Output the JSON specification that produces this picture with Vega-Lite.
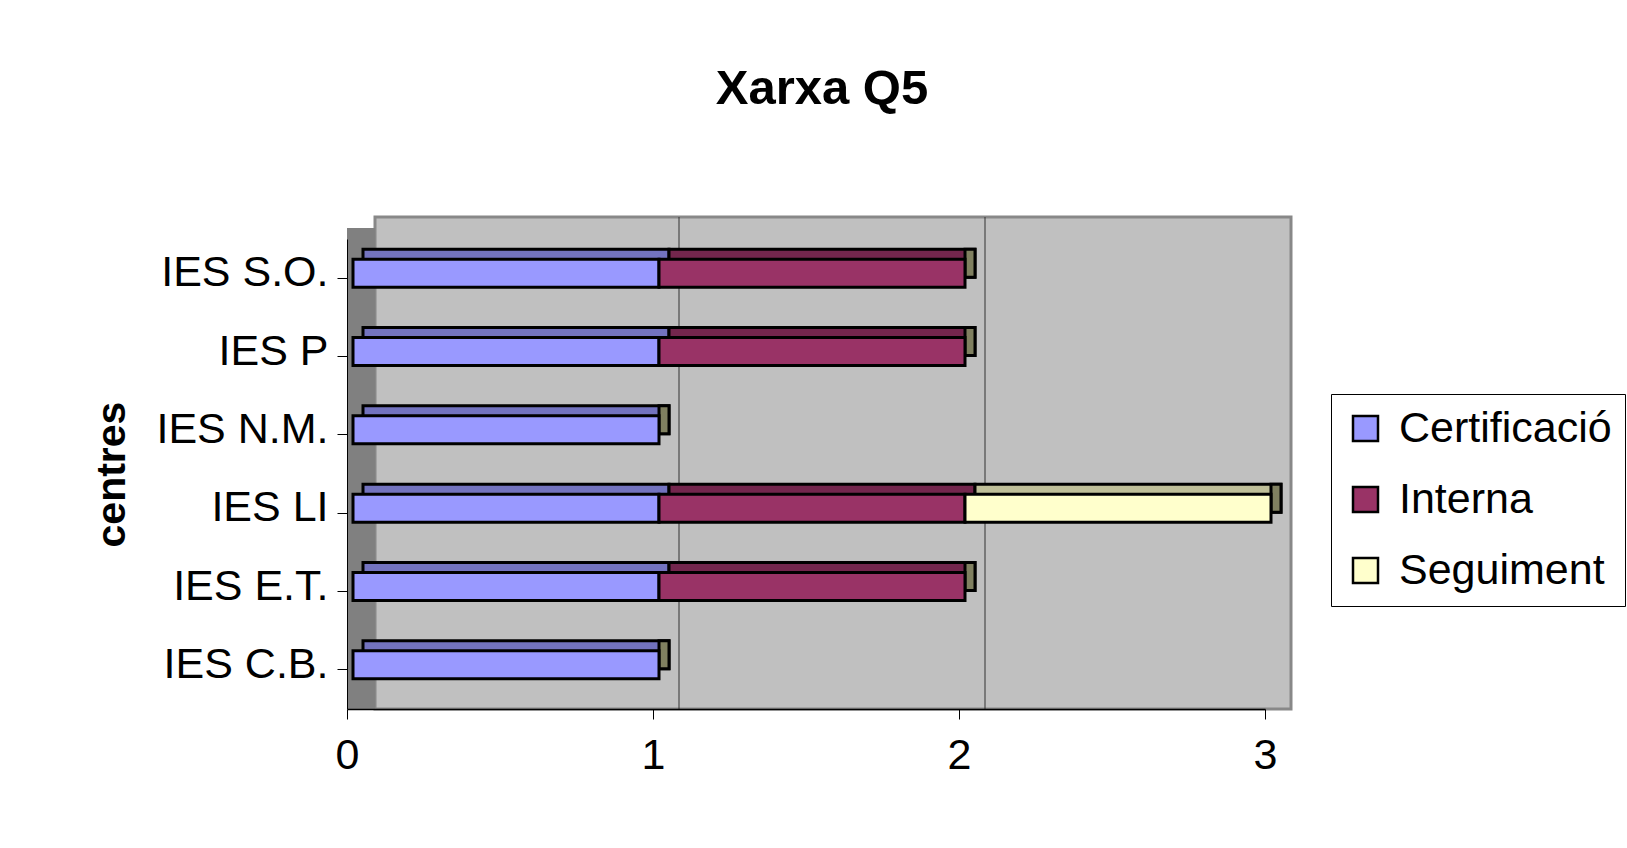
{
  "$schema": "https://vega.github.io/schema/vega-lite/v6.json",
  "autosize": {"type": "none"},
  "width": 918,
  "height": 470,
  "padding": {"left": 347, "top": 239, "right": 362, "bottom": 139},
  "background": "white",
  "config": {
    "view": {"stroke": null, "fill": null},
    "font": "Liberation Sans"
  },
  "title": {"text": "Xarxa Q5", "fontSize": 49, "fontWeight": "bold", "font": "Liberation Sans", "color": "black", "anchor": "middle", "frame": "group", "baseline": "alphabetic", "offset": 63, "dx": 16},
  "datasets": {
    "bars": [
      {"centre": "IES S.O.", "series": "Certificació", "value": 1},
      {"centre": "IES S.O.", "series": "Interna", "value": 1},
      {"centre": "IES P", "series": "Certificació", "value": 1},
      {"centre": "IES P", "series": "Interna", "value": 1},
      {"centre": "IES N.M.", "series": "Certificació", "value": 1},
      {"centre": "IES LI", "series": "Certificació", "value": 1},
      {"centre": "IES LI", "series": "Interna", "value": 1},
      {"centre": "IES LI", "series": "Seguiment", "value": 1},
      {"centre": "IES E.T.", "series": "Certificació", "value": 1},
      {"centre": "IES E.T.", "series": "Interna", "value": 1},
      {"centre": "IES C.B.", "series": "Certificació", "value": 1}
    ]
  },
  "data": {"name": "bars"},
  "resolve": {"scale": {"color": "independent"}},
  "layer": [
    {
      "data": {"values": [{}]},
      "mark": {"type": "rect", "fill": "#C0C0C0", "stroke": "#888888", "strokeWidth": 3, "xOffset": 28, "x2Offset": 26, "yOffset": -22},
      "encoding": {
        "x": {"datum": 0, "type": "quantitative", "scale": {"domain": [0, 3], "nice": false, "zero": false},
          "axis": {"orient": "bottom", "zindex": 1, "values": [0, 1, 2, 3], "format": "d", "domainColor": "black", "domainWidth": 1.5, "tickColor": "black", "tickSize": 10, "labelFontSize": 43, "labelColor": "black", "labelPadding": 15, "labelFlush": false, "title": null, "grid": false}},
        "x2": {"datum": 3}
      }
    },
    {
      "data": {"values": [{}]},
      "mark": {"type": "rect", "fill": "#808080", "x2Offset": 28, "yOffset": -11, "y2Offset": -11},
      "encoding": {
        "x": {"datum": 0, "type": "quantitative", "scale": {"domain": [0, 3], "nice": false, "zero": false},
          "axis": {"orient": "bottom", "zindex": 1, "values": [0, 1, 2, 3], "format": "d", "domainColor": "black", "domainWidth": 1.5, "tickColor": "black", "tickSize": 10, "labelFontSize": 43, "labelColor": "black", "labelPadding": 15, "labelFlush": false, "title": null, "grid": false}},
        "x2": {"datum": 0}
      }
    },
    {
      "data": {"values": [{}]},
      "mark": {"type": "rule", "color": "#333333", "strokeWidth": 1, "xOffset": 26, "yOffset": -22, "y2Offset": -21},
      "encoding": {
        "x": {"datum": 1, "type": "quantitative", "scale": {"domain": [0, 3], "nice": false, "zero": false},
          "axis": {"orient": "bottom", "zindex": 1, "values": [0, 1, 2, 3], "format": "d", "domainColor": "black", "domainWidth": 1.5, "tickColor": "black", "tickSize": 10, "labelFontSize": 43, "labelColor": "black", "labelPadding": 15, "labelFlush": false, "title": null, "grid": false}}
      }
    },
    {
      "data": {"values": [{}]},
      "mark": {"type": "rule", "color": "#333333", "strokeWidth": 1, "xOffset": 26, "yOffset": -22, "y2Offset": -21},
      "encoding": {
        "x": {"datum": 2, "type": "quantitative", "scale": {"domain": [0, 3], "nice": false, "zero": false},
          "axis": {"orient": "bottom", "zindex": 1, "values": [0, 1, 2, 3], "format": "d", "domainColor": "black", "domainWidth": 1.5, "tickColor": "black", "tickSize": 10, "labelFontSize": 43, "labelColor": "black", "labelPadding": 15, "labelFlush": false, "title": null, "grid": false}}
      }
    },
    {
      "mark": {"type": "bar", "size": 28, "stroke": "black", "strokeWidth": 3, "xOffset": 16, "x2Offset": 16, "yOffset": -15},
      "encoding": {
        "x": {"field": "value", "type": "quantitative", "stack": "zero", "scale": {"domain": [0, 3], "nice": false, "zero": false},
          "axis": {"orient": "bottom", "zindex": 1, "values": [0, 1, 2, 3], "format": "d", "domainColor": "black", "domainWidth": 1.5, "tickColor": "black", "tickSize": 10, "labelFontSize": 43, "labelColor": "black", "labelPadding": 15, "labelFlush": false, "title": null, "grid": false}},
        "y": {"field": "centre", "type": "nominal", "sort": ["IES S.O.", "IES P", "IES N.M.", "IES LI", "IES E.T.", "IES C.B."], "scale": {"paddingInner": 0, "paddingOuter": 0},
          "axis": {"orient": "left", "zindex": 1, "domainColor": "black", "tickColor": "black", "tickSize": 10, "labelFontSize": 43, "labelColor": "black", "labelPadding": 9, "labelOffset": -5, "labelLimit": 400, "title": "centres", "titleFontSize": 41, "titleFontWeight": "bold", "titleColor": "black", "titleAngle": -90, "titleX": -235, "titleY": 235, "titleBaseline": "middle", "titleAlign": "center", "grid": false}},
        "color": {"field": "series", "type": "nominal", "scale": {"domain": ["Certificació", "Interna", "Seguiment"], "range": ["#7373BF", "#73264D", "#BFBF99"]}, "legend": null}
      }
    },
    {
      "transform": [{"aggregate": [{"op": "sum", "field": "value", "as": "total"}], "groupby": ["centre"]}],
      "mark": {"type": "bar", "size": 28, "fill": "#808060", "stroke": "black", "strokeWidth": 3, "xOffset": 6, "x2Offset": 16, "yOffset": -15},
      "encoding": {
        "x": {"field": "total", "type": "quantitative", "scale": {"domain": [0, 3], "nice": false, "zero": false},
          "axis": {"orient": "bottom", "zindex": 1, "values": [0, 1, 2, 3], "format": "d", "domainColor": "black", "domainWidth": 1.5, "tickColor": "black", "tickSize": 10, "labelFontSize": 43, "labelColor": "black", "labelPadding": 15, "labelFlush": false, "title": null, "grid": false}},
        "x2": {"field": "total"},
        "y": {"field": "centre", "type": "nominal", "sort": ["IES S.O.", "IES P", "IES N.M.", "IES LI", "IES E.T.", "IES C.B."], "scale": {"paddingInner": 0, "paddingOuter": 0},
          "axis": {"orient": "left", "zindex": 1, "domainColor": "black", "tickColor": "black", "tickSize": 10, "labelFontSize": 43, "labelColor": "black", "labelPadding": 9, "labelOffset": -5, "labelLimit": 400, "title": "centres", "titleFontSize": 41, "titleFontWeight": "bold", "titleColor": "black", "titleAngle": -90, "titleX": -235, "titleY": 235, "titleBaseline": "middle", "titleAlign": "center", "grid": false}}
      }
    },
    {
      "mark": {"type": "bar", "size": 28, "stroke": "black", "strokeWidth": 3, "xOffset": 6, "x2Offset": 6, "yOffset": -5},
      "encoding": {
        "x": {
          "field": "value", "type": "quantitative", "stack": "zero",
          "scale": {"domain": [0, 3], "nice": false, "zero": false},
          "axis": {"orient": "bottom", "zindex": 1, "values": [0, 1, 2, 3], "format": "d", "domainColor": "black", "domainWidth": 1.5, "tickColor": "black", "tickSize": 10, "labelFontSize": 43, "labelColor": "black", "labelPadding": 15, "labelFlush": false, "title": null, "grid": false}
        },
        "y": {
          "field": "centre", "type": "nominal", "sort": ["IES S.O.", "IES P", "IES N.M.", "IES LI", "IES E.T.", "IES C.B."],
          "scale": {"paddingInner": 0, "paddingOuter": 0},
          "axis": {"orient": "left", "zindex": 1, "domainColor": "black", "tickColor": "black", "tickSize": 10, "labelFontSize": 43, "labelColor": "black", "labelPadding": 9, "labelOffset": -5, "labelLimit": 400, "title": "centres", "titleFontSize": 41, "titleFontWeight": "bold", "titleColor": "black", "titleAngle": -90, "titleX": -235, "titleY": 235, "titleBaseline": "middle", "titleAlign": "center", "grid": false}
        },
        "color": {
          "field": "series", "type": "nominal",
          "scale": {"domain": ["Certificació", "Interna", "Seguiment"], "range": ["#9999FF", "#993366", "#FFFFCC"]},
          "legend": {"orient": "none", "legendX": 984, "legendY": 155, "title": null, "padding": 13, "fillColor": "white", "strokeColor": "black", "symbolType": "square", "symbolSize": 625, "symbolStrokeColor": "black", "symbolStrokeWidth": 2.5, "labelFontSize": 43, "labelColor": "black", "labelOffset": 12, "rowPadding": 27, "labelLimit": 400}
        }
      }
    }
  ]
}
